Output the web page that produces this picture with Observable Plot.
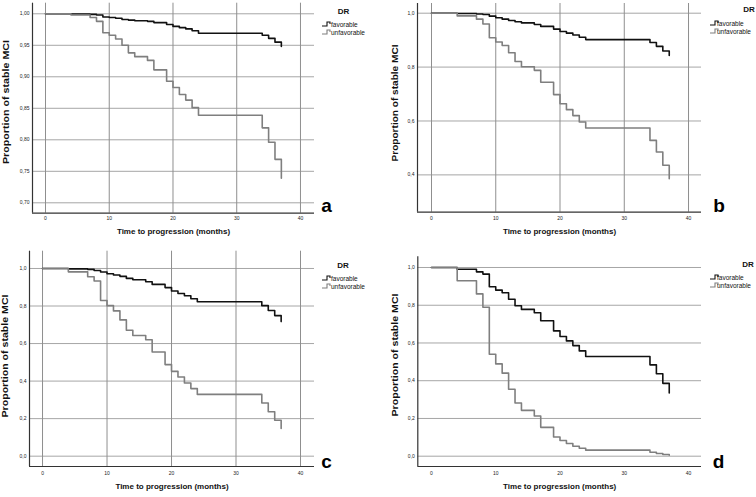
<!DOCTYPE html>
<html>
<head>
<meta charset="utf-8">
<script src="https://cdn.jsdelivr.net/npm/d3@7"></script>
<script src="https://cdn.jsdelivr.net/npm/@observablehq/plot@0.6"></script>
<style>
  html, body { margin: 0; padding: 0; background: #fff; }
  #wrap { position: relative; width: 756px; height: 497px; overflow: hidden; background: #fff; }
  .panel { position: absolute; }
  .panel svg { overflow: visible; }
</style>
</head>
<body>
<div id="wrap"></div>
<script>
// ---- Data ----
const times = [0, 4, 7, 8, 9, 10, 11, 12, 13, 14, 16, 17, 19, 20, 21, 22, 23, 24, 34, 35, 36, 37];

const favA   = [1.000, 0.9996, 0.999, 0.998, 0.995, 0.994, 0.993, 0.991, 0.990, 0.989, 0.988, 0.986, 0.983, 0.980, 0.978, 0.976, 0.973, 0.969, 0.966, 0.961, 0.955, 0.948];
const unfavA = [1.000, 0.998, 0.994, 0.988, 0.970, 0.966, 0.960, 0.950, 0.938, 0.932, 0.926, 0.911, 0.893, 0.883, 0.872, 0.863, 0.851, 0.839, 0.819, 0.796, 0.769, 0.739];

const favB   = [1.000, 0.999, 0.997, 0.995, 0.989, 0.983, 0.978, 0.973, 0.968, 0.964, 0.958, 0.951, 0.941, 0.932, 0.926, 0.919, 0.911, 0.902, 0.891, 0.877, 0.860, 0.843];
const unfavB = [1.000, 0.990, 0.978, 0.960, 0.909, 0.893, 0.880, 0.853, 0.821, 0.801, 0.788, 0.744, 0.698, 0.664, 0.642, 0.620, 0.596, 0.574, 0.528, 0.485, 0.436, 0.386];

const favC   = [1.000, 0.998, 0.995, 0.989, 0.981, 0.972, 0.965, 0.958, 0.947, 0.940, 0.929, 0.915, 0.898, 0.880, 0.867, 0.855, 0.839, 0.823, 0.802, 0.776, 0.749, 0.717];
const unfavC = [1.000, 0.982, 0.956, 0.933, 0.829, 0.802, 0.774, 0.726, 0.671, 0.643, 0.620, 0.555, 0.488, 0.452, 0.422, 0.390, 0.360, 0.329, 0.283, 0.237, 0.191, 0.148];

const favD   = [1.000, 0.991, 0.977, 0.965, 0.898, 0.880, 0.866, 0.832, 0.797, 0.778, 0.760, 0.718, 0.664, 0.634, 0.611, 0.586, 0.558, 0.528, 0.484, 0.437, 0.386, 0.335];
const unfavD = [1.000, 0.930, 0.860, 0.789, 0.540, 0.489, 0.440, 0.355, 0.282, 0.243, 0.213, 0.153, 0.102, 0.083, 0.067, 0.053, 0.042, 0.032, 0.021, 0.014, 0.009, 0.005];

const groups = ["favorable", "unfavorable"];
const xTicks = [0, 10, 20, 30, 40];
const yTicksA = [0.70, 0.75, 0.80, 0.85, 0.90, 0.95, 1.00];
const yTicksB = [0.4, 0.6, 0.8, 1.0];
const yTicksCD = [0.0, 0.2, 0.4, 0.6, 0.8, 1.0];
const panelLetters = ["a", "b", "c", "d"];
const xTitle = "Time to progression (months)";
const yTitle = "Proportion of stable MCI";
const legendTitle = "DR";

// ---- Layout (styles / positions) ----
const layouts = [
  {left: 0,   top: 0,   h: 248, fav: favA, unfav: unfavA, yTicks: yTicksA, fmt: ".2f",
   ml: 32, mr: 64, mt: 2.7, mb: 35.3, xd: [-2.04, 42.2], yd: [0.6835, 1.0168], tp: 3,
   xtDy: 20.5, ytX: 6.3, ytY: 102, ytLen: 124, letter: [326.5, 206.2],
   dr: [343.5, 11], icon: 322, txt: 331, ly: [24, 32], gridX: true},
  {left: 378, top: 0,   h: 248, fav: favB, unfav: unfavB, yTicks: yTicksB, fmt: ".1f",
   ml: 39, mr: 55, mt: 3, mb: 36.3, xd: [-2.18, 42.02], yd: [0.2615, 1.036], tp: 4,
   xtDy: 21.6, ytX: 16.7, ytY: 103, ytLen: 117, letter: [341, 205.9],
   dr: [371, 9], icon: 332, txt: 339, ly: [23, 31], gridX: true},
  {left: 0,   top: 248, h: 249, fav: favC, unfav: unfavC, yTicks: yTicksCD, fmt: ".1f",
   ml: 29, mr: 64, mt: 2.7, mb: 31, xd: [-2.02, 42.17], yd: [-0.055, 1.092], tp: 5,
   xtDy: 22.3, ytX: 5, ytY: 108, ytLen: 123, letter: [326.5, 213.9],
   dr: [343, 17], icon: 322, txt: 331, ly: [30, 38], gridX: true},
  {left: 378, top: 248, h: 249, fav: favD, unfav: unfavD, yTicks: yTicksCD, fmt: ".1f",
   ml: 39.3, mr: 55, mt: 8.3, mb: 31, xd: [-2.13, 42.02], yd: [-0.0546, 1.0567], tp: 5,
   xtDy: 22.3, ytX: 16.7, ytY: 107, ytLen: 123, letter: [340.5, 213.9],
   dr: [370, 16], icon: 332, txt: 339, ly: [29, 37], gridX: false}
];

const FONT = "'Liberation Sans', Arial, Helvetica, sans-serif";
const colors = ["#111111", "#7f7f7f"];
const wrap = document.getElementById("wrap");

layouts.forEach((L, i) => {
  const rows = [];
  times.forEach((t, k) => rows.push({t, s: L.fav[k], g: groups[0]}));
  times.forEach((t, k) => rows.push({t, s: L.unfav[k], g: groups[1]}));
  const f = d3.format(L.fmt);
  const fmt = d => f(d).replace(".", ",");

  const marks = [];
  marks.push(Plot.gridY(L.yTicks, {stroke: "#a6a6a6", strokeOpacity: 1, strokeWidth: 1}));
  if (L.gridX) marks.push(Plot.gridX(xTicks, {stroke: "#8f8f8f", strokeOpacity: 1, strokeWidth: 1}));
  marks.push(Plot.axisY(L.yTicks, {tickSize: 0, tickPadding: 3, tickFormat: fmt, label: null, fontSize: 5, fill: "#222"}));
  marks.push(Plot.axisX(xTicks, {tickSize: 0, tickPadding: L.tp, label: null, fontSize: 5, fill: "#222"}));
  marks.push(Plot.ruleY([L.yd[0]], {stroke: "#333", strokeWidth: 1.2}));
  marks.push(Plot.ruleX([L.xd[0]], {stroke: "#333", strokeWidth: 1.2}));
  marks.push(Plot.line(rows, {x: "t", y: "s", z: "g", stroke: "g", curve: "step-after", strokeWidth: 1.6}));
  marks.push(Plot.text([xTitle], {frameAnchor: "bottom", dy: L.xtDy, text: d => d, fontWeight: "bold", fontSize: 8, fill: "#111"}));

  const chart = Plot.plot({
    width: 378,
    height: L.h,
    marginLeft: L.ml, marginRight: L.mr, marginTop: L.mt, marginBottom: L.mb,
    x: {domain: L.xd, axis: null},
    y: {domain: L.yd, axis: null},
    color: {domain: groups, range: colors},
    style: {fontFamily: FONT, fontSize: "5px", background: "transparent", overflow: "visible"},
    marks
  });

  const svg = d3.select(chart);
  // y-axis title (rotated, stretched to the reference length)
  svg.append("text")
    .attr("transform", `translate(${L.ytX},${L.ytY}) rotate(-90)`)
    .attr("x", -L.ytLen / 2).attr("y", 0)
    .attr("text-anchor", "start").attr("dominant-baseline", "central")
    .attr("textLength", L.ytLen).attr("lengthAdjust", "spacingAndGlyphs")
    .attr("font-family", FONT).attr("font-size", 8.4).attr("font-weight", "bold")
    .attr("fill", "#111").text(yTitle);

  // legend
  const lg = svg.append("g").attr("font-family", FONT);
  lg.append("text").attr("x", L.dr[0]).attr("y", L.dr[1]).attr("text-anchor", "middle")
    .attr("dominant-baseline", "central").attr("font-size", 8).attr("font-weight", "bold")
    .attr("fill", "#111").text(legendTitle);
  groups.forEach((g, k) => {
    const y = L.ly[k];
    const x0 = L.icon;
    lg.append("path")
      .attr("d", `M${x0},${y + 2}H${x0 + 5}V${y - 2}H${x0 + 8}V${y}`)
      .attr("fill", "none").attr("stroke", colors[k]).attr("stroke-width", 1.1);
    lg.append("text").attr("x", L.txt).attr("y", y).attr("text-anchor", "start")
      .attr("dominant-baseline", "central")
      .attr("font-size", 6.5).attr("fill", "#111").text(g);
  });
  // panel letter
  svg.append("text").attr("x", L.letter[0]).attr("y", L.letter[1]).attr("dy", "0.32em")
    .attr("text-anchor", "middle").attr("font-family", FONT).attr("font-size", 19)
    .attr("font-weight", "bold").attr("fill", "#000").text(panelLetters[i]);

  const div = document.createElement("div");
  div.className = "panel";
  div.style.left = L.left + "px";
  div.style.top = L.top + "px";
  div.appendChild(chart);
  wrap.appendChild(div);
});
</script>
</body>
</html>
